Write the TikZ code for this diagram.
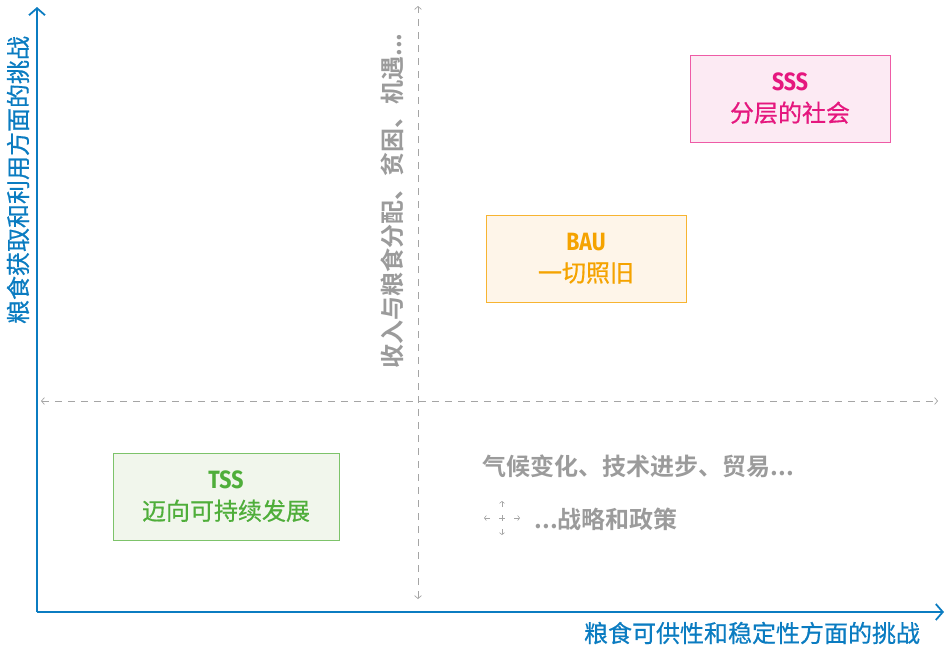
\documentclass[tikz,border=0pt]{standalone}
\usepackage{fontspec}
\setmainfont{Noto Sans CJK SC}[BoldFont={Noto Sans CJK SC Bold}]
\newfontfamily\medcjk{Noto Sans CJK SC}[FakeBold=0.6]
\newfontfamily\latfont{Fira Sans}[FakeStretch=0.85]
\usetikzlibrary{arrows.meta}
\definecolor{axisblue}{HTML}{0B7CC1}
\definecolor{txtgray}{HTML}{9B9B9B}
\definecolor{lngray}{HTML}{A5A5A5}
\definecolor{pinkT}{HTML}{E5177E}
\definecolor{pinkB}{HTML}{EE5BA6}
\definecolor{pinkF}{HTML}{FCEAF3}
\definecolor{orT}{HTML}{F5A300}
\definecolor{orB}{HTML}{F7B431}
\definecolor{orF}{HTML}{FEF5E9}
\definecolor{grT}{HTML}{4FAE3A}
\definecolor{grB}{HTML}{7DC36A}
\definecolor{grF}{HTML}{F1F6EC}
\tikzset{
  axis/.style={draw=axisblue, line width=2.4pt, -{Straight Barb[length=7pt,width=16pt,line width=1.8pt]}},
  guide/.style={draw=lngray, line width=0.7pt, dash pattern=on 7pt off 6pt, {Straight Barb[length=3pt,width=7pt]}-{Straight Barb[length=3pt,width=7pt]}},
  scen/.style={minimum width=#1, minimum height=87pt, inner sep=0pt, line width=1pt, align=center, font=\fontsize{24}{31}\medcjk},
  axlabel/.style={text=axisblue, font=\fontsize{24}{28}\medcjk},
  graylabel/.style={text=txtgray, font=\bfseries\fontsize{24}{28}\selectfont},
  tiny/.style={draw=lngray, line width=0.6pt, -{Straight Barb[length=2pt,width=5pt]}}
}
\newcommand{\lat}[1]{{\latfont\bfseries\fontsize{25}{26}\selectfont #1}}
\begin{document}
\begin{tikzpicture}[x=1pt,y=-1pt]
\useasboundingbox (0,0) rectangle (946,649);
% guides
\coordinate (vt) at (418,6);
\coordinate (vb) at (418,599);
\coordinate (hl) at (41,401);
\coordinate (hr) at (938,401);
\draw[guide] (vb) -- (vt);
\draw[guide] (hl) -- (hr);
% axes
\coordinate (o) at (37,612);
\coordinate (ytop) at (37,7);
\coordinate (xend) at (944,612);
\draw[axis] (o) -- (ytop);
\draw[axis] (o) -- (xend);
% axis labels
\node[axlabel, rotate=90] (ylab) at (18,180) {粮食获取和利用方面的挑战};
\node[axlabel] (xlab) at (752,633) {粮食可供性和稳定性方面的挑战};
% gray labels
\node[graylabel, rotate=90] (vlab) at (392,201) {收入与粮食分配、贫困、机遇...};
\node[graylabel, anchor=west] (drv) at (479,466) {气候变化、技术进步、贸易...};
\node[graylabel, anchor=west] (pol) at (531,519) {...战略和政策};
% scenario boxes
\node[scen=200pt, draw=pinkB, fill=pinkF, text=pinkT] (sss) at (790,98.5) {\lat{SSS}\\分层的社会};
\node[scen=200pt, draw=orB, fill=orF, text=orT] (bau) at (586,258.5) {\lat{BAU}\\一切照旧};
\node[scen=226pt, draw=grB, fill=grF, text=grT] (tss) at (226,496.5) {\lat{TSS}\\迈向可持续发展};
% small cross symbol
\coordinate (c) at (502,518);
\draw[lngray, line width=0.6pt] (499,518) -- (505,518) (502,515) -- (502,521);
\draw[tiny] (502,507) -- (502,501);
\draw[tiny] (502,529) -- (502,535);
\draw[tiny] (490,518) -- (484,518);
\draw[tiny] (514,518) -- (520,518);
\end{tikzpicture}
\end{document}
